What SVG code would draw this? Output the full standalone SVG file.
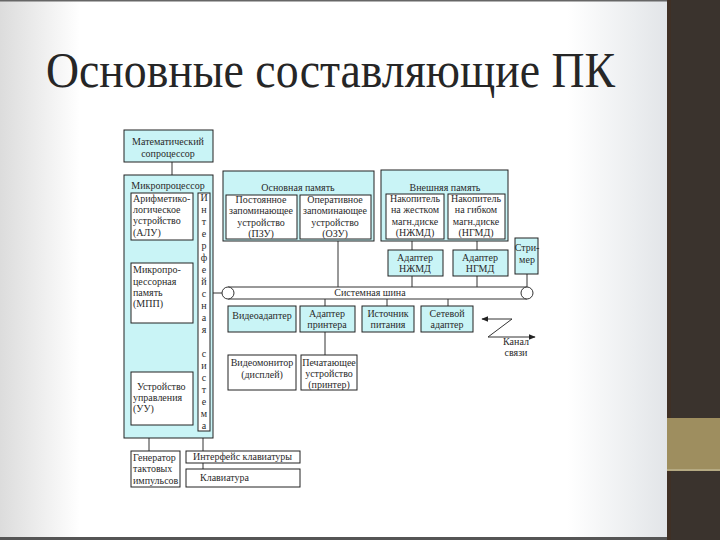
<svg xmlns="http://www.w3.org/2000/svg" width="720" height="540" viewBox="0 0 720 540">
<defs>
<linearGradient id="bg" x1="0" y1="0" x2="1" y2="0">
<stop offset="0" stop-color="#dcdcdc"/>
<stop offset="0.12" stop-color="#ffffff"/>
<stop offset="0.85" stop-color="#ffffff"/>
<stop offset="1" stop-color="#e2e5e8"/>
</linearGradient>
<marker id="ah" viewBox="0 0 10 10" refX="9" refY="5" markerWidth="7" markerHeight="7" orient="auto-start-reverse">
<path d="M0,1 L10,5 L0,9 Z" fill="#222"/>
</marker>
<style>
.c{fill:#c9f4f6;stroke:#222;stroke-width:1}
.w{fill:#ffffff;stroke:#222;stroke-width:1}
.t{font-family:"Liberation Serif","Times New Roman","DejaVu Serif",serif;font-size:10px;fill:#2a2a2a}
.m{text-anchor:middle}
.ln{stroke:#333;stroke-width:1;fill:none}
</style>
</defs>
<rect x="0" y="0" width="667" height="540" fill="url(#bg)"/>
<rect x="0" y="0" width="667" height="1.5" fill="#666"/>
<rect x="0" y="537" width="667" height="3" fill="#555"/>
<rect x="667" y="0" width="53" height="540" fill="#3a332d"/>
<rect x="667" y="0" width="4" height="540" fill="#3f3025"/>
<rect x="667" y="418" width="53" height="52" fill="#9e8e5f"/>
<rect x="667" y="469" width="53" height="2" fill="#b5aa82"/>
<text x="46" y="87" font-family="Liberation Serif, Times New Roman, serif" font-size="50" fill="#262626" textLength="569" lengthAdjust="spacingAndGlyphs">Основные составляющие ПК</text>

<g id="connectors">
<line class="ln" x1="172" y1="162" x2="172" y2="175"/>
<line class="ln" x1="338" y1="241" x2="338" y2="287"/>
<line class="ln" x1="412" y1="241" x2="412" y2="250"/>
<line class="ln" x1="477" y1="241" x2="477" y2="250"/>
<line class="ln" x1="412" y1="276" x2="412" y2="287"/>
<line class="ln" x1="477" y1="276" x2="477" y2="287"/>
<line class="ln" x1="527" y1="274" x2="527" y2="287"/>
<line class="ln" x1="210" y1="293" x2="222" y2="293"/>
<line class="ln" x1="325" y1="299" x2="325" y2="306"/>
<line class="ln" x1="387" y1="299" x2="387" y2="306"/>
<line class="ln" x1="448" y1="299" x2="448" y2="306"/>
<line class="ln" x1="325" y1="332" x2="325" y2="355"/>
<line class="ln" x1="149" y1="438" x2="149" y2="451"/>
<line class="ln" x1="203" y1="431" x2="203" y2="451"/>
<line class="ln" x1="203" y1="463" x2="203" y2="469"/>
<line class="ln" x1="512" y1="319" x2="482" y2="319" marker-end="url(#ah)"/>
<line class="ln" x1="512" y1="319" x2="488" y2="337"/>
<line class="ln" x1="488" y1="337" x2="535" y2="337" marker-end="url(#ah)"/>
</g>

<g id="bus">
<line class="ln" x1="228" y1="287" x2="527" y2="287"/>
<line class="ln" x1="228" y1="299" x2="527" y2="299"/>
<circle cx="228" cy="293" r="6" fill="#fff" stroke="#333"/>
<circle cx="527" cy="293" r="6" fill="#fff" stroke="#333"/>
<text class="t m" x="370" y="296">Системная шина</text>
</g>

<g id="coprocessor">
<rect class="c" x="124" y="130" width="89" height="32"/>
<text class="t m" x="168" y="145">Математический</text>
<text class="t m" x="168" y="157">сопроцессор</text>
</g>

<g id="microprocessor">
<rect class="c" x="124" y="175" width="89" height="263"/>
<text class="t m" x="168" y="189">Микропроцессор</text>
</g>
<g id="alu">
<rect class="w" x="131" y="193" width="62" height="47"/>
<text class="t" x="133" y="202">Арифметико-</text>
<text class="t" x="133" y="213">логическое</text>
<text class="t" x="133" y="224">устройство</text>
<text class="t" x="133" y="236">(АЛУ)</text>
</g>
<g id="interface">
<rect class="w" x="198" y="193" width="12" height="238"/>
<text class="t m" x="204" y="201">И<tspan x="204" dy="12">н</tspan><tspan x="204" dy="12">т</tspan><tspan x="204" dy="12">е</tspan><tspan x="204" dy="12">р</tspan><tspan x="204" dy="12">ф</tspan><tspan x="204" dy="12">е</tspan><tspan x="204" dy="12">й</tspan><tspan x="204" dy="12">с</tspan><tspan x="204" dy="12">н</tspan><tspan x="204" dy="12">а</tspan><tspan x="204" dy="12">я</tspan><tspan x="204" dy="24">с</tspan><tspan x="204" dy="12">и</tspan><tspan x="204" dy="12">с</tspan><tspan x="204" dy="12">т</tspan><tspan x="204" dy="12">е</tspan><tspan x="204" dy="12">м</tspan><tspan x="204" dy="12">а</tspan></text>
</g>
<g id="mpp">
<rect class="w" x="131" y="263" width="62" height="60"/>
<text class="t" x="133" y="273">Микропро-</text>
<text class="t" x="133" y="285">цессорная</text>
<text class="t" x="133" y="296">память</text>
<text class="t" x="133" y="307">(МПП)</text>
</g>
<g id="uu">
<rect class="w" x="131" y="372" width="62" height="53"/>
<text class="t" x="137" y="390">Устройство</text>
<text class="t" x="133" y="401">управления</text>
<text class="t" x="133" y="412">(УУ)</text>
</g>

<g id="main-memory">
<rect class="c" x="223" y="171" width="151" height="70"/>
<text class="t m" x="298" y="191">Основная память</text>
</g>
<g id="pzu">
<rect class="w" x="226" y="195" width="71" height="44"/>
<text class="t m" x="261" y="203">Постоянное</text>
<text class="t m" x="261" y="214">запоминающее</text>
<text class="t m" x="261" y="226">устройство</text>
<text class="t m" x="261" y="237">(ПЗУ)</text>
</g>
<g id="ozu">
<rect class="w" x="300" y="195" width="71" height="44"/>
<text class="t m" x="335" y="203">Оперативное</text>
<text class="t m" x="335" y="214">запоминающее</text>
<text class="t m" x="335" y="226">устройство</text>
<text class="t m" x="335" y="237">(ОЗУ)</text>
</g>

<g id="ext-memory">
<rect class="c" x="381" y="170" width="127" height="71"/>
<text class="t m" x="445" y="191">Внешняя память</text>
</g>
<g id="nzhmd">
<rect class="w" x="386" y="194" width="58" height="45"/>
<text class="t m" x="415" y="202">Накопитель</text>
<text class="t m" x="415" y="213">на жестком</text>
<text class="t m" x="415" y="225">магн.диске</text>
<text class="t m" x="415" y="236">(НЖМД)</text>
</g>
<g id="ngmd">
<rect class="w" x="448" y="194" width="57" height="45"/>
<text class="t m" x="476" y="202">Накопитель</text>
<text class="t m" x="476" y="213">на гибком</text>
<text class="t m" x="476" y="225">магн.диске</text>
<text class="t m" x="476" y="236">(НГМД)</text>
</g>
<g id="adapter-nzhmd">
<rect class="c" x="388" y="250" width="55" height="26"/>
<text class="t m" x="415" y="261">Адаптер</text>
<text class="t m" x="415" y="272">НЖМД</text>
</g>
<g id="adapter-ngmd">
<rect class="c" x="453" y="250" width="55" height="26"/>
<text class="t m" x="480" y="261">Адаптер</text>
<text class="t m" x="480" y="272">НГМД</text>
</g>
<g id="streamer">
<rect class="c" x="515" y="238" width="23" height="36"/>
<text class="t m" x="527" y="251">Стри-</text>
<text class="t m" x="527" y="263">мер</text>
</g>

<g id="videoadapter">
<rect class="c" x="228" y="306" width="68" height="26"/>
<text class="t m" x="262" y="319">Видеоадаптер</text>
</g>
<g id="printer-adapter">
<rect class="c" x="300" y="306" width="55" height="26"/>
<text class="t m" x="327" y="317">Адаптер</text>
<text class="t m" x="327" y="328">принтера</text>
</g>
<g id="power">
<rect class="c" x="362" y="306" width="52" height="26"/>
<text class="t m" x="388" y="317">Источник</text>
<text class="t m" x="388" y="328">питания</text>
</g>
<g id="network-adapter">
<rect class="c" x="421" y="306" width="52" height="26"/>
<text class="t m" x="447" y="317">Сетевой</text>
<text class="t m" x="447" y="328">адаптер</text>
</g>
<g id="channel">
<text class="t m" x="516" y="345">Канал</text>
<text class="t m" x="516" y="356">связи</text>
</g>
<g id="monitor">
<rect class="w" x="228" y="355" width="68" height="35"/>
<text class="t m" x="262" y="366">Видеомонитор</text>
<text class="t m" x="262" y="378">(дисплей)</text>
</g>
<g id="printer">
<rect class="w" x="301" y="355" width="56" height="35"/>
<text class="t m" x="329" y="366">Печатающее</text>
<text class="t m" x="329" y="377">устройство</text>
<text class="t m" x="329" y="388">(принтер)</text>
</g>

<g id="generator">
<rect class="w" x="131" y="451" width="49" height="36"/>
<text class="t" x="133" y="461">Генератор</text>
<text class="t" x="133" y="472">тактовых</text>
<text class="t" x="133" y="484">импульсов</text>
</g>
<g id="kb-interface">
<rect class="w" x="186" y="451" width="114" height="12"/>
<text class="t" x="193" y="460">Интерфейс клавиатуры</text>
</g>
<g id="keyboard">
<rect class="w" x="186" y="469" width="114" height="18"/>
<text class="t" x="200" y="481">Клавиатура</text>
</g>
</svg>
